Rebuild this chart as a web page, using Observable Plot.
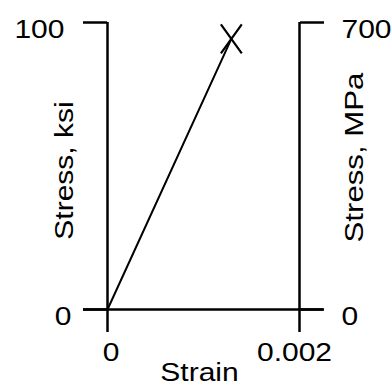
<!DOCTYPE html>
<html><head><meta charset="utf-8">
<script src="https://cdn.jsdelivr.net/npm/d3@7"></script>
<script src="https://cdn.jsdelivr.net/npm/@observablehq/plot@0.6"></script>
<style>html,body{margin:0;padding:0;background:#fff}</style>
</head><body><div id="chart"></div>
<script>
// Data
const strain = [0, 0.00129];
const stressKsi = [0, 94.3];
const xTicks = [0, 0.002];
const xTickLabels = ["0", "0.002"];
const ksiTicks = [0, 100];
const ksiTickLabels = ["0", "100"];
const mpaTickLabels = ["0", "700"];
const xTitle = "Strain";
const yLeftTitle = "Stress, ksi";
const yRightTitle = "Stress, MPa";

const curve = strain.map((s, i) => ({strain: s, stress: stressKsi[i]}));
const failure = [curve[curve.length - 1]];

const crossSymbol = {
  draw(ctx, size) {
    const r = Math.sqrt(size / Math.PI);
    const w = r * 0.72;
    ctx.moveTo(-w, -r); ctx.lineTo(w, r);
    ctx.moveTo(w, -r); ctx.lineTo(-w, r);
  }
};

const FS = 25;
const SW = 2.5;
const xLabel = d => xTickLabels[xTicks.indexOf(d)];
const ksiLabel = d => ksiTickLabels[ksiTicks.indexOf(d)];
const mpaLabel = d => mpaTickLabels[ksiTicks.indexOf(d)];
const chart = Plot.plot({
  width: 391, height: 386,
  marginLeft: 107, marginRight: 92, marginTop: 22, marginBottom: 77,
  style: {fontFamily: "'Liberation Sans', Arial, Helvetica, sans-serif", fontSize: FS + "px", color: "black", background: "white"},
  x: {domain: [0, 0.002]},
  y: {domain: [0, 100]},
  marks: [
    Plot.ruleX(xTicks, {stroke: "black", strokeWidth: SW}),
    Plot.ruleY([0], {stroke: "black", strokeWidth: SW, insetLeft: -24, insetRight: -24}),
    // tick marks (no labels)
    Plot.axisX({ticks: xTicks, tickSize: 23, strokeWidth: SW, fill: "none", label: null}),
    Plot.axisY({anchor: "left", ticks: ksiTicks, tickSize: 24, strokeWidth: SW, fill: "none", label: null}),
    Plot.axisY({anchor: "right", ticks: ksiTicks, tickSize: 24, strokeWidth: SW, fill: "none", label: null}),
    // tick labels
    Plot.axisX({ticks: [xTicks[0]], tickFormat: xLabel, tickSize: 0, tickPadding: 34, dx: 3.5, fontSize: FS, label: null}),
    Plot.axisX({ticks: [xTicks[1]], tickFormat: xLabel, tickSize: 0, tickPadding: 34, dx: -5, fontSize: FS, label: null}),
    Plot.axisY({anchor: "left", ticks: [ksiTicks[0]], tickFormat: ksiLabel, tickSize: 0, tickPadding: 36, dy: 7, fontSize: FS, label: null}),
    Plot.axisY({anchor: "left", ticks: [ksiTicks[1]], tickFormat: ksiLabel, tickSize: 0, tickPadding: 43, dy: 7, fontSize: FS, label: null}),
    Plot.axisY({anchor: "right", ticks: ksiTicks, tickFormat: mpaLabel, tickSize: 0, tickPadding: 42, dy: 7, fontSize: FS, label: null}),
    Plot.line(curve, {x: "strain", y: "stress", stroke: "black", strokeWidth: 2}),
    Plot.dot(failure, {x: "strain", y: "stress", symbol: crossSymbol, r: 14.5, stroke: "black", fill: "none", strokeWidth: 2.2}),
    Plot.text([xTitle], {frameAnchor: "bottom", textAnchor: "middle", dx: -4, dy: 63, lineAnchor: "middle", fontSize: FS, fill: "black"}),
    Plot.text([yLeftTitle], {frameAnchor: "left", textAnchor: "middle", rotate: -90, dx: -43, dy: 4.5, lineAnchor: "middle", fontSize: FS, fill: "black"}),
    Plot.text([yRightTitle], {frameAnchor: "right", textAnchor: "middle", rotate: -90, dx: 55, dy: -8.5, lineAnchor: "middle", fontSize: 26, fill: "black"})
  ]
});
document.getElementById("chart").appendChild(chart);

// Widen glyphs along the reading direction (the reference font is wider), keeping each text's anchor fixed
const STRETCH = 1.2;
chart.querySelectorAll("text").forEach(t => {
  if (!t.textContent) return;
  const g = document.createElementNS("http://www.w3.org/2000/svg", "g");
  t.parentNode.insertBefore(g, t);
  g.appendChild(t);
  const bb = g.getBBox();
  const anchor = getComputedStyle(t).textAnchor;
  const rotated = /rotate/.test(t.getAttribute("transform") || "");
  if (!rotated) {
    const ax = anchor === "end" ? bb.x + bb.width : anchor === "middle" ? bb.x + bb.width / 2 : bb.x;
    g.setAttribute("transform", `translate(${ax},0) scale(${STRETCH},1) translate(${-ax},0)`);
  } else {
    const ay = bb.y + bb.height / 2;
    g.setAttribute("transform", `translate(0,${ay}) scale(1,${STRETCH}) translate(0,${-ay})`);
  }
});
</script>
</body></html>
